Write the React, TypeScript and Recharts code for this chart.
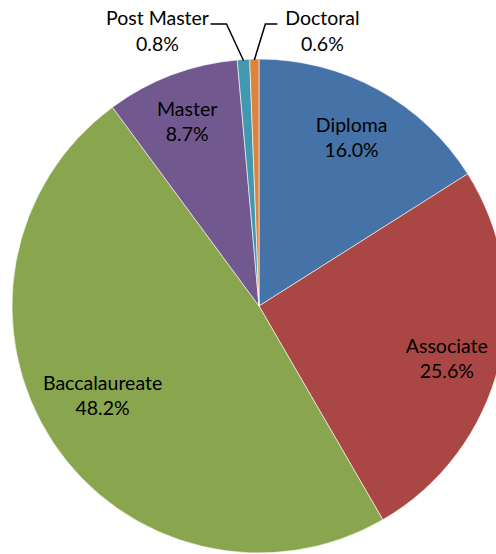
import React from "react";
import { PieChart, Pie, Cell } from "recharts";

const categories = ["Diploma", "Associate", "Baccalaureate", "Master", "Post Master", "Doctoral"];
const shares = [16.0, 25.6, 48.2, 8.7, 0.8, 0.6];
const colors = ["#4572A7", "#AA4643", "#89A54E", "#71588F", "#4198AF", "#DB843D"];

const data = categories.map((name, i) => ({ name, value: shares[i] }));

const RAD = Math.PI / 180;
const FONT = "Lato, 'Open Sans', sans-serif";
const FS = 19.5;

// inside label placement: radius factor and angle tweak (degrees)
const insideFactor = [0.778, 0.79, 0.73, 0.8];
const insideAngle = [0, -2, -3.4, 0.6];

const renderLabel = (props: any) => {
  const { cx, cy, midAngle, outerRadius, index, name, value } = props;
  const pct = `${Number(value).toFixed(1)}%`;
  if (index < 4) {
    const a = (midAngle + insideAngle[index]) * RAD;
    const r = outerRadius * insideFactor[index];
    const x = cx + r * Math.cos(a);
    const y = cy - r * Math.sin(a);
    return (
      <text
        key={`l-${index}`}
        x={x}
        y={y}
        textAnchor="middle"
        fontFamily={FONT}
        fontSize={FS}
        fill="#000"
      >
        <tspan x={x} y={y - 6}>{name}</tspan>
        <tspan x={x} y={y + 19}>{pct}</tspan>
      </text>
    );
  }
  // outside labels with elbow leader lines
  const a = midAngle * RAD;
  const ex = cx + outerRadius * Math.cos(a);
  const ey = cy - outerRadius * Math.sin(a) + 1;
  const left = index === 4;
  const elbowY = cy - outerRadius - 35;
  const elbowX = ex + (left ? -17 : 11);
  const endX = elbowX + (left ? -16 : 12);
  const tx = left ? endX - 53 : endX + 45;
  const by = elbowY + 1;
  return (
    <g key={`l-${index}`}>
      <polyline
        points={`${ex},${ey} ${elbowX},${elbowY} ${endX},${elbowY}`}
        fill="none"
        stroke="#000"
        strokeWidth={1.5}
      />
      <text textAnchor="middle" fontFamily={FONT} fontSize={FS} fill="#000">
        <tspan x={tx} y={by}>{name}</tspan>
        <tspan x={tx} y={by + 26}>{pct}</tspan>
      </text>
    </g>
  );
};

export default function App() {
  return (
    <div style={{ position: "absolute", top: 0, left: 0, width: 496, height: 554, background: "#fff" }}>
      <PieChart width={496} height={554} margin={{ top: 0, right: 0, bottom: 0, left: 0 }}>
        <Pie
          data={data}
          dataKey="value"
          nameKey="name"
          cx={259}
          cy={306}
          outerRadius={247}
          startAngle={90}
          endAngle={-270}
          stroke="#ffffff"
          strokeWidth={0.6}
          label={renderLabel}
          labelLine={false}
          isAnimationActive={false}
        >
          {data.map((d, i) => (
            <Cell key={d.name} fill={colors[i]} />
          ))}
        </Pie>
      </PieChart>
    </div>
  );
}
